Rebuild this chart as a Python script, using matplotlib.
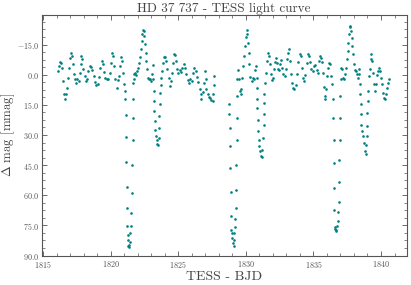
import matplotlib
matplotlib.use("Agg")
import matplotlib.pyplot as plt
from matplotlib.ticker import MultipleLocator, AutoMinorLocator, FuncFormatter

plt.rcParams.update({
    "font.family": "serif",
    "font.serif": ["cmr10"],
    "mathtext.fontset": "cm",
    "axes.unicode_minus": False,
})

# TESS time (BJD - 2457000) and magnitude difference [mmag]
bjd = [
    1816.11, 1816.18, 1816.26, 1816.33, 1816.40, 1816.48, 1816.55, 1816.60, 1816.67, 1816.75,
    1816.85, 1816.92, 1817.00, 1817.04, 1817.12, 1817.19, 1817.27, 1817.34, 1817.44, 1817.54,
    1817.64, 1817.71, 1817.78, 1817.83, 1817.91, 1817.98, 1818.08, 1818.18, 1818.25, 1818.35,
    1818.45, 1818.55, 1818.65, 1818.74, 1818.84, 1818.94, 1819.04, 1819.14, 1819.24, 1819.33,
    1819.41, 1819.48, 1819.58, 1819.70, 1819.83, 1819.93, 1820.02, 1820.12, 1820.20, 1820.27,
    1820.34, 1820.44, 1820.54, 1820.64, 1820.71, 1820.79, 1820.86, 1820.94, 1821.01, 1821.06,
    1821.08, 1821.11, 1821.13, 1821.16, 1821.18, 1821.21, 1821.23, 1821.26, 1821.28, 1821.31,
    1821.35, 1821.38, 1821.43, 1821.45, 1821.48, 1821.53, 1821.55, 1821.60, 1821.63, 1821.64,
    1821.65, 1821.66, 1821.70, 1821.75, 1821.82, 1821.90, 1821.97, 1822.04, 1822.12, 1822.19,
    1822.24, 1822.29, 1822.34, 1822.39, 1822.44, 1822.49, 1822.54, 1822.59, 1822.64, 1822.68,
    1822.76, 1822.83, 1822.91, 1822.98, 1823.05, 1823.10, 1823.15, 1823.18, 1823.20, 1823.23,
    1823.28, 1823.30, 1823.35, 1823.40, 1823.45, 1823.50, 1823.55, 1823.57, 1823.60, 1823.62,
    1823.65, 1823.69, 1823.74, 1823.82, 1823.89, 1823.97, 1824.04, 1824.11, 1824.19, 1824.29,
    1824.36, 1824.43, 1824.51, 1824.58, 1824.66, 1824.73, 1824.80, 1824.90, 1825.00, 1825.10,
    1825.20, 1825.30, 1825.39, 1825.49, 1825.59, 1825.69, 1825.79, 1825.89, 1825.99, 1826.08,
    1826.18, 1826.28, 1826.38, 1826.48, 1826.58, 1826.65, 1826.72, 1826.80, 1826.87, 1826.95,
    1827.02, 1827.09, 1827.17, 1827.24, 1827.34, 1827.44, 1827.54, 1827.59, 1827.64, 1827.68,
    # second orbit
    1828.77, 1828.79, 1828.82, 1828.84, 1828.85, 1828.87, 1828.89, 1828.92, 1828.97, 1829.01,
    1829.06, 1829.09, 1829.14, 1829.16, 1829.19, 1829.21, 1829.24, 1829.26, 1829.29, 1829.31,
    1829.33, 1829.34, 1829.38, 1829.43, 1829.48, 1829.56, 1829.61, 1829.66, 1829.73, 1829.80,
    1829.88, 1829.95, 1830.00, 1830.05, 1830.10, 1830.15, 1830.20, 1830.27, 1830.34, 1830.42,
    1830.52, 1830.62, 1830.69, 1830.74, 1830.79, 1830.81, 1830.84, 1830.86, 1830.89, 1830.91,
    1830.96, 1831.01, 1831.06, 1831.11, 1831.16, 1831.21, 1831.26, 1831.31, 1831.33, 1831.35,
    1831.38, 1831.45, 1831.50, 1831.58, 1831.65, 1831.72, 1831.80, 1831.87, 1831.95, 1832.02,
    1832.09, 1832.17, 1832.24, 1832.32, 1832.39, 1832.46, 1832.54, 1832.61, 1832.68, 1832.78,
    1832.88, 1832.98, 1833.08, 1833.15, 1833.23, 1833.30, 1833.37, 1833.45, 1833.52, 1833.60,
    1833.69, 1833.79, 1833.89, 1833.99, 1834.09, 1834.19, 1834.26, 1834.33, 1834.41, 1834.51,
    1834.61, 1834.68, 1834.75, 1834.85, 1834.95, 1835.05, 1835.15, 1835.25, 1835.32, 1835.39,
    1835.47, 1835.54, 1835.62, 1835.69, 1835.76, 1835.84, 1835.89, 1835.96, 1836.03, 1836.11,
    1836.18, 1836.26, 1836.33, 1836.40, 1836.45, 1836.48, 1836.50, 1836.51, 1836.53, 1836.55,
    1836.58, 1836.62, 1836.65, 1836.70, 1836.75, 1836.80, 1836.85, 1836.87, 1836.90, 1836.92,
    1836.94, 1836.95, 1836.97, 1837.02, 1837.07, 1837.14, 1837.22, 1837.29, 1837.37, 1837.44,
    1837.49, 1837.54, 1837.59, 1837.64, 1837.68, 1837.73, 1837.78, 1837.83, 1837.88, 1837.93,
    1838.00, 1838.08, 1838.15, 1838.23, 1838.30, 1838.35, 1838.40, 1838.45, 1838.47, 1838.50,
    1838.52, 1838.55, 1838.60, 1838.67, 1838.74, 1838.82, 1838.87, 1838.92, 1838.94, 1838.97,
    1838.99, 1839.01, 1839.04, 1839.09, 1839.16, 1839.24, 1839.29, 1839.36, 1839.43, 1839.51,
    1839.58, 1839.66, 1839.73, 1839.80, 1839.88, 1839.95, 1840.02, 1840.10, 1840.17, 1840.25,
    1840.32, 1840.39, 1840.47, 1840.54, 1840.62,
]
dmag = [
    -1.8, -4.3, -6.3, -5.7, -3.5, 3.2, 9.8, 12.0, 9.8, 6.5,
    1.5, -3.5, -8.5, -10.7, -9.3, -5.2, -0.2, 2.3, 4.0, 2.0,
    3.2, -1.0, -5.2, -9.3, -7.7, -3.0, 0.7, 3.2, 2.3, -1.8,
    -4.3, -3.8, -2.3, 0.7, 3.7, 5.3, 4.8, 1.0, -3.5, -6.8,
    -5.2, -1.3, 1.5, 2.3, 2.0, -0.7, -6.0, -10.7, -9.3, -4.3,
    2.3, 6.5, 2.7, 0.7, -4.3, -9.0, -6.8, -1.0, 4.8, 8.2,
    12.3, 20.3, 31.2, 43.7, 55.7, 66.5, 75.2, 79.8, 82.3, 85.2,
    86.0, 84.8, 83.2, 79.0, 75.3, 69.0, 58.7, 44.8, 32.3, 21.8,
    12.3, 4.0, 2.0, -0.2, -0.7, 0.3, -1.8, -3.5, -5.7, -9.0,
    -12.7, -16.8, -20.2, -22.3, -21.8, -19.3, -15.2, -11.0, -6.8, -2.7,
    1.5, 2.3, 2.0, 3.2, -0.2, -4.7, 2.3, 8.2, 13.2, 18.2,
    23.2, 27.3, 30.7, 32.3, 34.3, 34.8, 31.5, 26.5, 20.7, 14.8,
    9.3, 5.3, 1.5, -1.8, -5.7, -9.0, -9.0, -6.8, -2.7, 1.5,
    5.7, 3.2, -0.7, -6.0, -10.2, -9.7, -6.8, -2.7, -0.7, -2.3,
    -1.3, -3.5, -5.2, -3.5, -0.2, 2.7, 4.0, 2.0, 3.2, -0.7,
    -3.5, -1.8, 1.0, 3.7, 7.0, 9.8, 12.0, 8.7, 4.0, -1.8,
    2.0, 7.0, 9.8, 11.0, 11.5, 12.7, 13.2, 9.8, 5.3, 0.7,
    # second orbit
    14.8, 19.8, 26.5, 35.7, 46.5, 58.2, 70.3, 77.3, 79.0, 81.5,
    84.0, 85.3, 82.3, 79.0, 75.7, 72.0, 66.2, 57.3, 44.8, 32.3,
    21.5, 10.7, 2.3, -2.3, 2.3, 8.2, 9.8, 7.0, 1.5, -4.3,
    -9.3, -14.3, -19.0, -22.3, -20.2, -16.0, -11.0, -5.2, 1.0, 3.2,
    1.7, 2.3, -2.3, -4.3, 1.5, 6.5, 12.3, 16.5, 22.3, 28.2,
    32.3, 35.7, 38.2, 40.3, 41.0, 37.3, 31.5, 24.8, 19.8, 14.0,
    9.8, 4.0, -1.0, -6.8, -10.7, -9.3, -5.2, -0.2, 2.7, 1.5,
    -2.7, -6.3, -8.5, -6.0, -2.7, -2.3, -5.2, -7.3, -3.5, -0.2,
    0.7, -2.7, -7.7, -11.0, -12.7, -6.8, -0.2, 4.0, 6.5, 7.3,
    5.3, -0.2, -6.3, -10.2, -9.3, -3.5, 1.5, 3.2, 0.3, -5.7,
    -10.2, -9.3, -6.3, -3.0, -1.8, -4.3, -4.7, -2.3, -1.0, -6.8,
    -9.3, -8.5, -6.3, -1.0, 6.0, 10.7, 12.0, 7.0, 0.7, -3.5,
    -6.0, -5.2, 0.7, 4.8, 12.3, 21.5, 32.3, 44.0, 56.5, 67.3,
    75.7, 77.0, 77.7, 77.3, 75.3, 72.7, 68.2, 63.2, 53.2, 42.3,
    32.3, 21.5, 10.7, 2.3, -3.5, -2.7, 1.5, 2.3, -0.2, -3.5,
    -7.7, -11.8, -16.0, -20.2, -23.5, -24.0, -21.8, -18.5, -14.3, -10.2,
    -5.2, -2.3, -1.8, -0.2, 1.5, -0.2, -2.7, 4.8, 9.8, 14.8,
    19.8, 24.8, 28.2, 30.7, 34.0, 38.2, 39.3, 34.8, 30.7, 25.7,
    19.0, 13.2, 8.2, 0.7, -2.7, -7.7, -10.2, -6.8, -0.7, 4.8,
    8.2, 4.8, 0.3, -1.8, -3.5, -1.8, 1.5, 4.8, 9.0, 11.5,
    12.3, 9.8, 6.5, 4.0, 2.3,
]

fig = plt.figure(figsize=(4.11, 2.85), dpi=100)
ax = fig.add_axes([0.1015, 0.102, 0.888, 0.846])

ax.plot(bjd, dmag, "o", ms=1.9, mew=0, color="teal")

ax.set_xlim(1814.9, 1841.9)
ax.set_ylim(90.2, -29.8)
ax.xaxis.set_major_locator(MultipleLocator(5))
ax.xaxis.set_minor_locator(MultipleLocator(1))
ax.yaxis.set_major_locator(MultipleLocator(15))
ax.yaxis.set_minor_locator(AutoMinorLocator(4))
ax.yaxis.set_major_formatter(FuncFormatter(lambda v, p: f"${v:.1f}$"))
ax.xaxis.set_major_formatter(FuncFormatter(lambda v, p: f"${v:.0f}$"))

grey = "#555555"
ax.tick_params(which="both", direction="in", top=True, right=True,
               colors=grey, labelsize=5.8, pad=2)
ax.tick_params(which="major", length=3.5, width=0.6)
ax.tick_params(which="minor", length=2, width=0.5)
for s in ax.spines.values():
    s.set_color(grey)
    s.set_linewidth(0.8)

ax.set_title("HD 37 737 - TESS light curve", fontsize=9.5, color="#444444", pad=2)
ax.set_xlabel("TESS - BJD", fontsize=10, color="#444444", labelpad=1)
ax.set_ylabel(r"$\Delta$ mag [mmag]", fontsize=9.2, color="#444444")
ax.yaxis.set_label_coords(-0.068, 0.5)

fig.savefig("out.png", dpi=100)
